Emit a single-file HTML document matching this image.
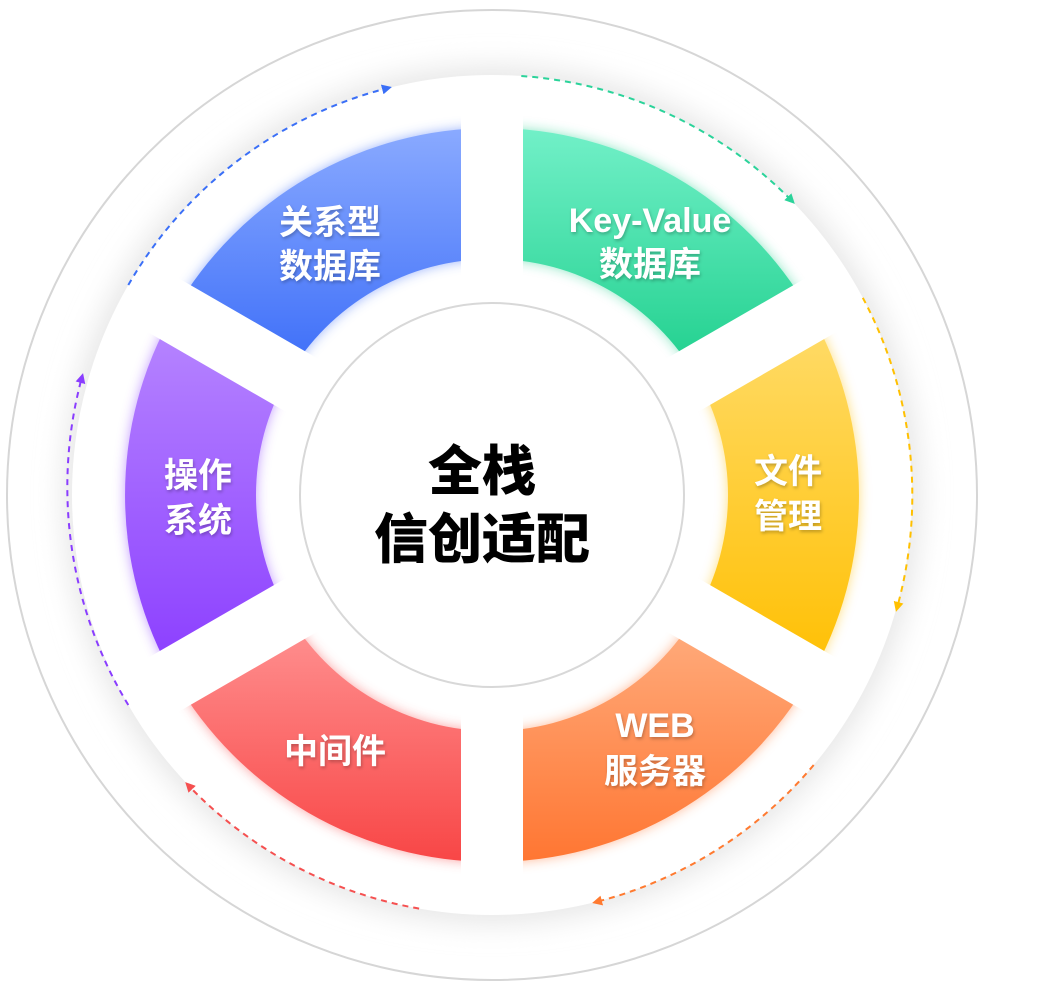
<!DOCTYPE html>
<html><head><meta charset="utf-8"><style>
html,body{margin:0;padding:0;background:#fff;width:1044px;height:1005px;overflow:hidden}
svg{display:block}
.l{font-family:"Liberation Sans","Noto Sans CJK SC",sans-serif;font-weight:bold;fill:#fff;font-size:34px;text-anchor:middle}
.c{font-family:"Liberation Sans","Noto Sans CJK SC",sans-serif;font-weight:900;fill:#000;font-size:54px;text-anchor:middle}
</style></head><body>
<svg width="1044" height="1005" viewBox="0 0 1044 1005">
<defs>
<filter id="sh" x="-20%" y="-20%" width="140%" height="140%"><feGaussianBlur stdDeviation="14"/></filter>
<filter id="gl" x="-20%" y="-20%" width="140%" height="140%"><feGaussianBlur stdDeviation="6"/></filter>
<filter id="ts"><feDropShadow dx="1" dy="2" stdDeviation="1.5" flood-color="#000" flood-opacity="0.25"/></filter>
<linearGradient id="gB" x1="0" y1="0" x2="0" y2="1"><stop offset="0" stop-color="#8aaaff"/><stop offset="1" stop-color="#3a6cf8"/></linearGradient>
<linearGradient id="gG" x1="0" y1="0" x2="0" y2="1"><stop offset="0" stop-color="#72f0c8"/><stop offset="1" stop-color="#1ecf8c"/></linearGradient>
<linearGradient id="gY" x1="0" y1="0" x2="0" y2="1"><stop offset="0" stop-color="#ffdc6c"/><stop offset="1" stop-color="#ffbf00"/></linearGradient>
<linearGradient id="gO" x1="0" y1="0" x2="0" y2="1"><stop offset="0" stop-color="#ffae80"/><stop offset="1" stop-color="#ff7632"/></linearGradient>
<linearGradient id="gR" x1="0" y1="0" x2="0" y2="1"><stop offset="0" stop-color="#ff9494"/><stop offset="1" stop-color="#f84646"/></linearGradient>
<linearGradient id="gP" x1="0" y1="0" x2="0" y2="1"><stop offset="0" stop-color="#b888ff"/><stop offset="1" stop-color="#8a3cff"/></linearGradient>
<marker id="mB" markerWidth="10" markerHeight="10" refX="6" refY="5" orient="auto" markerUnits="userSpaceOnUse"><path d="M0,0 L10,5 L0,10 Z" fill="#3a6ff7"/></marker>
<marker id="mG" markerWidth="10" markerHeight="10" refX="6" refY="5" orient="auto" markerUnits="userSpaceOnUse"><path d="M0,0 L10,5 L0,10 Z" fill="#2bd39a"/></marker>
<marker id="mY" markerWidth="10" markerHeight="10" refX="6" refY="5" orient="auto" markerUnits="userSpaceOnUse"><path d="M0,0 L10,5 L0,10 Z" fill="#ffc000"/></marker>
<marker id="mO" markerWidth="10" markerHeight="10" refX="6" refY="5" orient="auto" markerUnits="userSpaceOnUse"><path d="M0,0 L10,5 L0,10 Z" fill="#ff7a30"/></marker>
<marker id="mR" markerWidth="10" markerHeight="10" refX="6" refY="5" orient="auto" markerUnits="userSpaceOnUse"><path d="M0,0 L10,5 L0,10 Z" fill="#f55050"/></marker>
<marker id="mP" markerWidth="10" markerHeight="10" refX="6" refY="5" orient="auto" markerUnits="userSpaceOnUse"><path d="M0,0 L10,5 L0,10 Z" fill="#8a3dff"/></marker>
</defs>
<circle cx="492" cy="495" r="485" fill="#fff" stroke="#d6d6d6" stroke-width="2"/>
<circle cx="492" cy="495" r="428" fill="#e6e6e6" filter="url(#sh)"/>
<circle cx="492" cy="495" r="420" fill="#fff"/>
<g filter="url(#gl)" opacity="0.5">
<path d="M492,128 A367,367 0 0 0 174.2,311.5 L287.6,377 A236,236 0 0 1 492,259 Z" fill="#3a6cf8"/>
<path d="M809.8,311.5 A367,367 0 0 0 492,128 L492,259 A236,236 0 0 1 696.4,377 Z" fill="#1ecf8c"/>
<path d="M809.8,678.5 A367,367 0 0 0 809.8,311.5 L696.4,377 A236,236 0 0 1 696.4,613 Z" fill="#ffbf00"/>
<path d="M492,862 A367,367 0 0 0 809.8,678.5 L696.4,613 A236,236 0 0 1 492,731 Z" fill="#ff7632"/>
<path d="M174.2,678.5 A367,367 0 0 0 492,862 L492,731 A236,236 0 0 1 287.6,613 Z" fill="#f84646"/>
<path d="M174.2,311.5 A367,367 0 0 0 174.2,678.5 L287.6,613 A236,236 0 0 1 287.6,377 Z" fill="#8a3cff"/>
</g>
<path d="M492,128 A367,367 0 0 0 174.2,311.5 L287.6,377 A236,236 0 0 1 492,259 Z" fill="url(#gB)"/>
<path d="M809.8,311.5 A367,367 0 0 0 492,128 L492,259 A236,236 0 0 1 696.4,377 Z" fill="url(#gG)"/>
<path d="M809.8,678.5 A367,367 0 0 0 809.8,311.5 L696.4,377 A236,236 0 0 1 696.4,613 Z" fill="url(#gY)"/>
<path d="M492,862 A367,367 0 0 0 809.8,678.5 L696.4,613 A236,236 0 0 1 492,731 Z" fill="url(#gO)"/>
<path d="M174.2,678.5 A367,367 0 0 0 492,862 L492,731 A236,236 0 0 1 287.6,613 Z" fill="url(#gR)"/>
<path d="M174.2,311.5 A367,367 0 0 0 174.2,678.5 L287.6,613 A236,236 0 0 1 287.6,377 Z" fill="url(#gP)"/>
<g stroke="#fff" stroke-width="62">
<line x1="492" y1="495" x2="492" y2="100"/>
<line x1="492" y1="495" x2="492" y2="890"/>
<line x1="492" y1="495" x2="834.1" y2="297.5"/>
<line x1="492" y1="495" x2="149.9" y2="297.5"/>
<line x1="492" y1="495" x2="834.1" y2="692.5"/>
<line x1="492" y1="495" x2="149.9" y2="692.5"/>
</g>
<circle cx="492" cy="495" r="192" fill="#fff" stroke="#d8d8d8" stroke-width="2"/>
<g fill="none" stroke-width="2" stroke-dasharray="6,5">
<path d="M128.3,285 A420,420 0 0 1 388,88" stroke="#3a6ff7" marker-end="url(#mB)"/>
<path d="M521.3,76 A420,420 0 0 1 792,201" stroke="#2bd39a" marker-end="url(#mG)"/>
<path d="M862.8,297.8 A420,420 0 0 1 897,608" stroke="#ffc000" marker-end="url(#mY)"/>
<path d="M813.7,765 A420,420 0 0 1 596,902" stroke="#ff7a30" marker-end="url(#mO)"/>
<path d="M419.1,908.6 A420,420 0 0 1 188,785" stroke="#f55050" marker-end="url(#mR)"/>
<path d="M128.3,705 A420,420 0 0 1 82,377" stroke="#8a3dff" marker-end="url(#mP)"/>
</g>
<g filter="url(#ts)">
<text class="l" x="330" y="234">关系型</text>
<text class="l" x="330" y="278">数据库</text>
<text class="l" x="650" y="232">Key-Value</text>
<text class="l" x="650" y="276">数据库</text>
<text class="l" x="788" y="483">文件</text>
<text class="l" x="788" y="528">管理</text>
<text class="l" x="655" y="737">WEB</text>
<text class="l" x="655" y="783">服务器</text>
<text class="l" x="335" y="763">中间件</text>
<text class="l" x="198" y="487">操作</text>
<text class="l" x="198" y="532">系统</text>
</g>
<text class="c" x="482" y="490">全栈</text>
<text class="c" x="482" y="558">信创适配</text>
</svg>
</body></html>
